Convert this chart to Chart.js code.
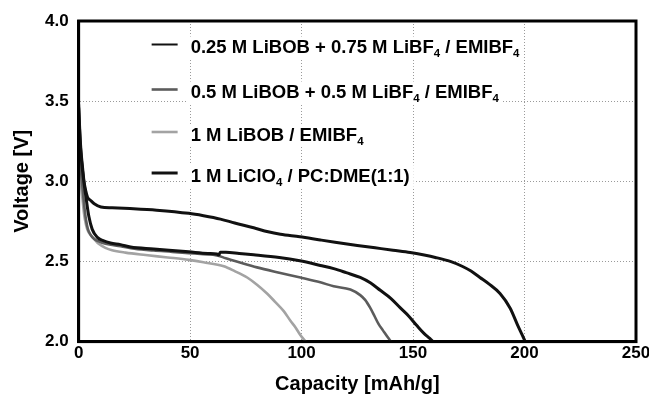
<!DOCTYPE html>
<html>
<head>
<meta charset="utf-8">
<script src="https://cdn.jsdelivr.net/npm/chart.js@4/dist/chart.umd.min.js"></script>
<style>
html, body { margin: 0; padding: 0; background: #fff; }
</style>
</head>
<body>
<canvas id="myChart" width="649" height="397"></canvas>
<script>
// legend labels, "_4" means subscript 4
var labels = [
    '0.25 M LiBOB + 0.75 M LiBF_4 / EMIBF_4',
    '0.5 M LiBOB + 0.5 M LiBF_4 / EMIBF_4',
    '1 M LiBOB / EMIBF_4',
    '1 M LiClO_4 / PC:DME(1:1)'
];

// 0.25 M LiBOB + 0.75 M LiBF4 / EMIBF4
var cap_025 = [0, 0.5, 1, 1.8, 2.4, 3.5, 4.6, 6.1, 8.4, 11, 14.3, 18.8, 23.3, 33.7, 49.4, 58, 62, 62.8, 63.6, 66, 72, 78.5, 90, 99.2, 108.4, 114.4, 120, 126.3, 131, 135.3, 140, 144.3, 148, 151.7, 155, 157.5, 159];
var volt_025 = [3.46, 3.3, 3.18, 3.06, 2.99, 2.88, 2.78, 2.70, 2.65, 2.63, 2.615, 2.605, 2.59, 2.578, 2.56, 2.55, 2.546, 2.54, 2.558, 2.557, 2.55, 2.542, 2.525, 2.504, 2.475, 2.455, 2.43, 2.40, 2.365, 2.32, 2.27, 2.21, 2.16, 2.10, 2.05, 2.02, 2.0];

// 0.5 M LiBOB + 0.5 M LiBF4 / EMIBF4
var cap_05 = [0, 0.5, 1, 1.8, 2.5, 3.3, 4.2, 5.4, 7, 9, 12, 18.8, 25, 33.7, 42, 49.4, 56, 62, 66, 72, 80, 90, 99.5, 108.4, 114.4, 121.9, 126.3, 128.5, 130.8, 132.5, 134.5, 136.5, 138.5, 140.1];
var volt_05 = [3.4, 3.2, 3.08, 2.95, 2.85, 2.76, 2.70, 2.665, 2.64, 2.625, 2.61, 2.595, 2.58, 2.568, 2.56, 2.552, 2.545, 2.538, 2.52, 2.495, 2.463, 2.43, 2.40, 2.37, 2.345, 2.325, 2.29, 2.26, 2.21, 2.165, 2.11, 2.07, 2.03, 2.0];

// 1 M LiBOB / EMIBF4
var cap_libob = [0, 0.5, 1, 1.8, 2.5, 3.3, 4.2, 5.4, 7, 9, 12, 15, 21, 30, 40, 49.4, 56, 65.1, 70, 75.6, 80, 84.5, 88, 92, 95, 97.2, 99.5, 101.9];
var volt_libob = [3.3, 3.12, 3.0, 2.88, 2.79, 2.73, 2.69, 2.665, 2.64, 2.61, 2.585, 2.57, 2.555, 2.54, 2.525, 2.51, 2.495, 2.47, 2.44, 2.40, 2.355, 2.30, 2.25, 2.19, 2.13, 2.09, 2.04, 2.0];

// 1 M LiClO4 / PC:DME(1:1)
var cap_liclo4 = [0, 0.5, 1, 1.8, 2.4, 3.2, 4, 5.4, 7, 10, 15, 23, 35, 49.4, 56, 63.6, 70, 78.5, 85, 90.5, 99.2, 108.4, 115, 125, 133, 141, 148.7, 155, 160, 166.7, 172, 176, 180, 184, 189, 193.5, 197, 199, 200.3];
var volt_liclo4 = [3.48, 3.32, 3.2, 3.08, 3.0, 2.94, 2.9, 2.88, 2.86, 2.84, 2.835, 2.83, 2.82, 2.80, 2.785, 2.764, 2.74, 2.71, 2.685, 2.67, 2.654, 2.634, 2.62, 2.60, 2.585, 2.57, 2.556, 2.54, 2.525, 2.50, 2.47, 2.44, 2.40, 2.36, 2.30, 2.21, 2.10, 2.04, 2.0];

var couleurs = ['#111111', '#5c5c5c', '#a3a3a3', '#111111'];
var epaisseurs = [3, 2.6, 2.6, 3];

function points(xs, ys) {
    return xs.map(function (x, i) { return { x: x, y: ys[i] }; });
}

var police = "'Liberation Sans', Arial, sans-serif";
Chart.defaults.font.family = police;
Chart.defaults.color = '#000';

// text with subscripts
function texteRiche(ctx, str, x, y, taille, dessiner) {
    var morceaux = str.split(/_(\d)/);
    var cx = x;
    for (var i = 0; i < morceaux.length; i++) {
        var sub = i % 2 === 1;
        ctx.font = 'bold ' + (sub ? taille * 0.62 : taille) + 'px ' + police;
        if (dessiner) ctx.fillText(morceaux[i], cx, sub ? y + taille * 0.32 : y);
        cx += ctx.measureText(morceaux[i]).width;
    }
    return cx - x;
}

var legendeInterne = {
    id: 'legendeInterne',
    afterDraw: function (chart) {
        var ctx = chart.ctx;
        var a = chart.chartArea;
        var lignesY = [23.5, 68.5, 111, 152];
        ctx.save();
        ctx.textBaseline = 'middle';
        ctx.fillStyle = '#000';
        for (var i = 0; i < labels.length; i++) {
            var y = a.top + lignesY[i];
            var w = texteRiche(ctx, labels[i], 0, 0, 18.5, false);
            ctx.fillStyle = '#fff';
            ctx.fillRect(a.left + 108, y - 8, w + 8, 22);
            ctx.strokeStyle = couleurs[i];
            ctx.lineWidth = i === 0 ? 2 : epaisseurs[i];
            ctx.beginPath();
            ctx.moveTo(a.left + 73, y);
            ctx.lineTo(a.left + 99, y);
            ctx.stroke();
            ctx.fillStyle = '#000';
            texteRiche(ctx, labels[i], a.left + 112, y + 3.5, 18.5, true);
        }
        // cadre
        ctx.strokeStyle = '#000';
        ctx.lineWidth = 3;
        ctx.strokeRect(a.left, a.top, a.right - a.left, a.bottom - a.top);
        ctx.restore();
    }
};

var ctx = document.getElementById('myChart').getContext('2d');
var myChart = new Chart(ctx, {
    type: 'line',
    data: {
        datasets: [
            { label: labels[0], data: points(cap_025, volt_025) },
            { label: labels[1], data: points(cap_05, volt_05) },
            { label: labels[2], data: points(cap_libob, volt_libob) },
            { label: labels[3], data: points(cap_liclo4, volt_liclo4) }
        ].map(function (d, i) {
            d.borderColor = couleurs[i];
            d.borderWidth = epaisseurs[i];
            d.pointRadius = 0;
            d.fill = false;
            d.cubicInterpolationMode = 'monotone';
            return d;
        })
    },
    options: {
        responsive: false,
        animation: false,
        layout: { autoPadding: false, padding: { left: 10, right: 13, top: 21, bottom: 0 } },
        plugins: {
            legend: { display: false },
            tooltip: { enabled: false }
        },
        scales: {
            x: {
                type: 'linear',
                min: 0,
                max: 250,
                afterFit: function (s) { s.paddingRight = 0; },
                ticks: { stepSize: 50, padding: 2, font: { size: 17, weight: 'bold' }, color: '#000' },
                grid: { color: '#9a9a9a', drawTicks: false, lineWidth: 1 },
                border: { display: true, color: '#000', width: 3, dash: [1, 2] },
                title: { display: true, text: 'Capacity [mAh/g]', font: { size: 20, weight: 'bold' }, color: '#000', padding: { top: 6, bottom: 1 } }
            },
            y: {
                type: 'linear',
                min: 2,
                max: 4,
                ticks: {
                    stepSize: 0.5, padding: 10, font: { size: 17, weight: 'bold' }, color: '#000',
                    callback: function (v) { return v.toFixed(1); }
                },
                grid: { color: '#9a9a9a', drawTicks: false, lineWidth: 1 },
                border: { display: true, color: '#000', width: 3, dash: [1, 2] },
                title: { display: true, text: 'Voltage [V]', font: { size: 20, weight: 'bold' }, color: '#000', padding: { top: 0, bottom: 1 } }
            }
        }
    },
    plugins: [legendeInterne]
});
</script>
</body>
</html>
